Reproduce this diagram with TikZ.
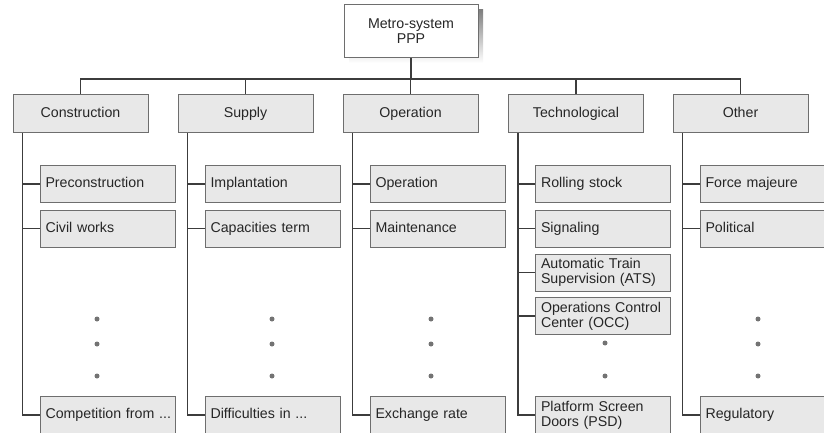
\documentclass[tikz,border=0pt]{standalone}
\usepackage{fontspec}
\setmainfont{Liberation Sans}
\definecolor{boxfill}{HTML}{E8E8E8}
\definecolor{boxedge}{HTML}{6E6E6E}
\definecolor{wire}{HTML}{3C3C3C}
\definecolor{shade}{HTML}{505050}
\begin{document}
\begin{tikzpicture}[x=1pt,y=-1pt,
  every node/.style={font=\fontsize{14.2}{15}\selectfont, text=black!85},
  rootbox/.style={draw=boxedge, line width=1pt, fill=white, minimum width=134pt, minimum height=53pt, align=center, inner sep=0pt},
  catbox/.style={draw=boxedge, line width=1pt, fill=boxfill, minimum width=135pt, minimum height=38pt, align=center, inner sep=0pt, text height=10.5pt, text depth=3.5pt},
  twoline/.style={draw=boxedge, line width=1pt, fill=boxfill, minimum width=135pt, minimum height=37pt, text width=124pt, align=left, inner xsep=5.5pt, inner ysep=0pt},
  leafbox/.style={twoline, text height=10.5pt, text depth=3.5pt},
  wireline/.style={draw=wire, line width=1.6pt},
  gapdot/.style={fill=black!55, circle, inner sep=0pt, minimum size=5pt}
]
\useasboundingbox (0,0) rectangle (824,433);

% root with drop shadow
\fill[shade] (349,10) rectangle (483,63);
\node[rootbox] (root) at (411,31.5) {Metro-system\\PPP};

% categories
\node[catbox] (c1) at (80.5,114) {Construction};
\node[catbox] (c2) at (245.5,114) {Supply};
\node[catbox] (c3) at (410.5,114) {Operation};
\node[catbox] (c4) at (576,114) {Technological};
\node[catbox] (c5) at (740.5,114) {Other};

\coordinate (bus) at (411,79);
\draw[wireline] (root.south) -- (bus);
\foreach \c in {c1,c2,c3,c4,c5} \draw[wireline] (bus) -| (\c.north);

% Construction
\node[leafbox] (a1) at (107.5,184) {Preconstruction};
\node[leafbox] (a2) at (107.5,228.5) {Civil works};
\node[leafbox] (a3) at (107.5,415) {\mbox{Competition from ...}};
% Supply
\node[leafbox] (b1) at (272.5,184) {Implantation};
\node[leafbox] (b2) at (272.5,228.5) {Capacities term};
\node[leafbox] (b3) at (272.5,415) {\mbox{Difficulties in ...}};
% Operation
\node[leafbox] (d1) at (437.5,184) {Operation};
\node[leafbox] (d2) at (437.5,228.5) {Maintenance};
\node[leafbox] (d3) at (437.5,415) {Exchange rate};
% Technological
\node[leafbox] (e1) at (603,184) {Rolling stock};
\node[leafbox] (e2) at (603,228.5) {Signaling};
\node[twoline] (e3) at (603,272.5) {Automatic Train\\Supervision (ATS)};
\node[twoline] (e4) at (603,316) {Operations Control\\Center (OCC)};
\node[twoline] (e5) at (603,415) {Platform Screen\\Doors (PSD)};
% Other
\node[leafbox] (f1) at (767.5,184) {Force majeure};
\node[leafbox] (f2) at (767.5,228.5) {Political};
\node[leafbox] (f3) at (767.5,415) {Regulatory};

% trunks to leaves
\foreach \c/\l in {c1/a1,c1/a2,c1/a3,c2/b1,c2/b2,c2/b3,c3/d1,c3/d2,c3/d3,
                   c4/e1,c4/e2,c4/e3,c4/e4,c4/e5,c5/f1,c5/f2,c5/f3}
  \draw[wireline] ([xshift=10pt]\c.south west) |- (\l.west);

% ellipsis dots
\foreach \x in {97,272,431,758}
  \foreach \y in {319,344,376}
    \node[gapdot] at (\x,\y) {};
\node[gapdot] at (605,343) {};
\node[gapdot] at (605,376) {};
\end{tikzpicture}
\end{document}
